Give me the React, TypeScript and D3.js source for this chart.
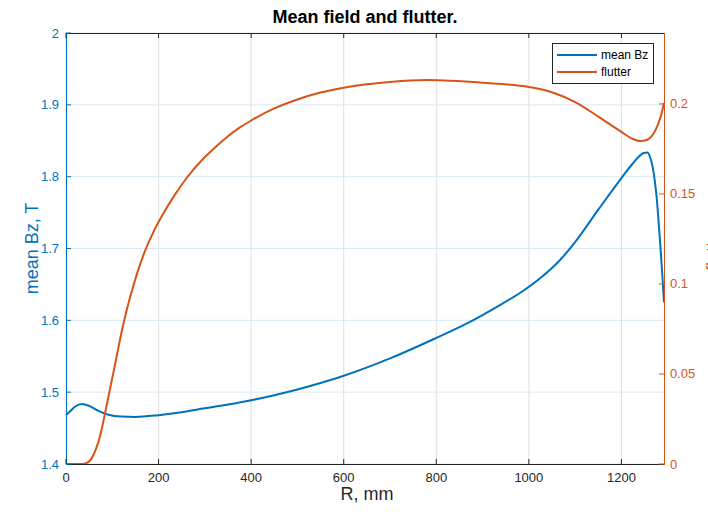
import React from "react";
import * as d3 from "d3";

const bzR = [0, 10, 20, 35, 50, 70, 90, 120, 150, 200, 250, 300, 350, 400, 450, 500, 550, 600, 700, 795, 879, 930, 984, 1025, 1066, 1100, 1150, 1200, 1224, 1238, 1248, 1256, 1262, 1267, 1272, 1276, 1280, 1284, 1288, 1292];
const bzV = [1.468, 1.474, 1.48, 1.4835, 1.481, 1.474, 1.469, 1.466, 1.4655, 1.468, 1.472, 1.4775, 1.4828, 1.4888, 1.4958, 1.5038, 1.5128, 1.5228, 1.547, 1.574, 1.6, 1.6185, 1.6395, 1.659, 1.683, 1.709, 1.754, 1.798, 1.818, 1.828, 1.833, 1.8335, 1.827, 1.815, 1.795, 1.772, 1.74, 1.705, 1.667, 1.625];

const flR = [0, 35, 45, 55, 65, 75, 85, 93, 105, 115, 125, 140, 155, 171, 190, 210, 235, 261, 300, 325, 350, 375, 400, 450, 500, 550, 600, 700, 780, 900, 1000, 1050, 1100, 1150, 1200, 1225, 1240, 1255, 1268, 1278, 1286, 1292];
const flV = [0, 0, 0.0006, 0.003, 0.0085, 0.017, 0.029, 0.039, 0.054, 0.067, 0.079, 0.094, 0.107, 0.1185, 0.1295, 0.139, 0.1495, 0.159, 0.1705, 0.1765, 0.1821, 0.1868, 0.1908, 0.1975, 0.2025, 0.2063, 0.209, 0.2122, 0.2133, 0.2118, 0.2094, 0.2065, 0.201, 0.193, 0.1845, 0.1805, 0.1794, 0.18, 0.183, 0.188, 0.194, 0.2006];

const xTicks = [0, 200, 400, 600, 800, 1000, 1200];
const yLeftTicks = [1.4, 1.5, 1.6, 1.7, 1.8, 1.9, 2];
const yRightTicks = [0, 0.05, 0.1, 0.15, 0.2];

const BLUE = "#0072BD";
const ORANGE = "#D95319";
const DARK = "#262626";
const FONT = "'Liberation Sans', Arial, Helvetica, sans-serif";

export default function App() {
  const W = 708, H = 512;
  const L = 66, R = 664, T = 33, B = 464;
  const x = d3.scaleLinear().domain([0, 1292]).range([L, R]);
  const yL = d3.scaleLinear().domain([1.4, 2]).range([B, T]);
  const yR = d3.scaleLinear().domain([0, 0.2394]).range([B, T]);

  const bzData = bzR.map((r, i) => [r, bzV[i]] as [number, number]);
  const flData = flR.map((r, i) => [r, flV[i]] as [number, number]);

  const lineL = d3.line<[number, number]>().x(d => x(d[0])).y(d => yL(d[1])).curve(d3.curveMonotoneX);
  const lineR = d3.line<[number, number]>().x(d => x(d[0])).y(d => yR(d[1])).curve(d3.curveMonotoneX);

  const tl = 5;
  const fmtR = (v: number) => (v === 0 ? "0" : String(v));

  return (
    <svg width={W} height={H} style={{ position: "absolute", left: 0, top: 0, background: "#fff" }} fontFamily={FONT}>
      <rect x={0} y={0} width={W} height={H} fill="#fff" />
      {xTicks.map(t => (
        <line key={"gx" + t} x1={x(t)} x2={x(t)} y1={T} y2={B} stroke="#dfdfdf" strokeWidth={1} />
      ))}
      {yLeftTicks.map(t => (
        <line key={"gy" + t} x1={L} x2={R} y1={yL(t)} y2={yL(t)} stroke="#d9eaf5" strokeWidth={1} />
      ))}
      <path d={lineL(bzData) || ""} fill="none" stroke={BLUE} strokeWidth={2} />
      <path d={lineR(flData) || ""} fill="none" stroke={ORANGE} strokeWidth={2} />
      <line x1={L} x2={R} y1={T + 0.5} y2={T + 0.5} stroke={DARK} strokeWidth={1} />
      <line x1={L} x2={R} y1={B + 0.5} y2={B + 0.5} stroke={DARK} strokeWidth={1} />
      <line x1={L + 0.5} x2={L + 0.5} y1={T} y2={B + 1} stroke={BLUE} strokeWidth={1} />
      <line x1={R + 0.5} x2={R + 0.5} y1={T} y2={B + 1} stroke={ORANGE} strokeWidth={1} />
      {xTicks.map(t => (
        <g key={"xt" + t}>
          <line x1={x(t)} x2={x(t)} y1={B} y2={B - tl} stroke={DARK} />
          <line x1={x(t)} x2={x(t)} y1={T} y2={T + tl} stroke={DARK} />
          <text x={x(t)} y={482} textAnchor="middle" fontSize={13} fill={DARK}>{t}</text>
        </g>
      ))}
      {yLeftTicks.map(t => (
        <g key={"yl" + t}>
          <line x1={L} x2={L + tl} y1={yL(t)} y2={yL(t)} stroke={BLUE} />
          <text x={59} y={yL(t) + 4.5} textAnchor="end" fontSize={13} fill={BLUE}>{String(t)}</text>
        </g>
      ))}
      {yRightTicks.map(t => (
        <g key={"yr" + t}>
          <line x1={R} x2={R - tl} y1={yR(t)} y2={yR(t)} stroke={ORANGE} />
          <text x={670} y={yR(t) + 4.5} textAnchor="start" fontSize={13} fill={ORANGE}>{fmtR(t)}</text>
        </g>
      ))}
      <text x={365} y={23} textAnchor="middle" fontSize={18} fontWeight="bold" fill="#000">Mean field and flutter.</text>
      <text x={367} y={500} textAnchor="middle" fontSize={18} fill={DARK}>R, mm</text>
      <text transform={`translate(38,${(T + B) / 2}) rotate(-90)`} textAnchor="middle" fontSize={18} fill={BLUE}>mean Bz, T</text>
      <text transform={`translate(719,${(T + B) / 2}) rotate(-90)`} textAnchor="middle" fontSize={18} fill={ORANGE}>flutter</text>
      <rect x={552.5} y={43.5} width={101} height={40} fill="#fff" stroke={DARK} strokeWidth={1} />
      <line x1={557} x2={597} y1={55} y2={55} stroke={BLUE} strokeWidth={2} />
      <text x={601} y={59} fontSize={12} fill="#000">mean Bz</text>
      <line x1={557} x2={597} y1={72} y2={72} stroke={ORANGE} strokeWidth={2} />
      <text x={601} y={76} fontSize={12} fill="#000">flutter</text>
    </svg>
  );
}
